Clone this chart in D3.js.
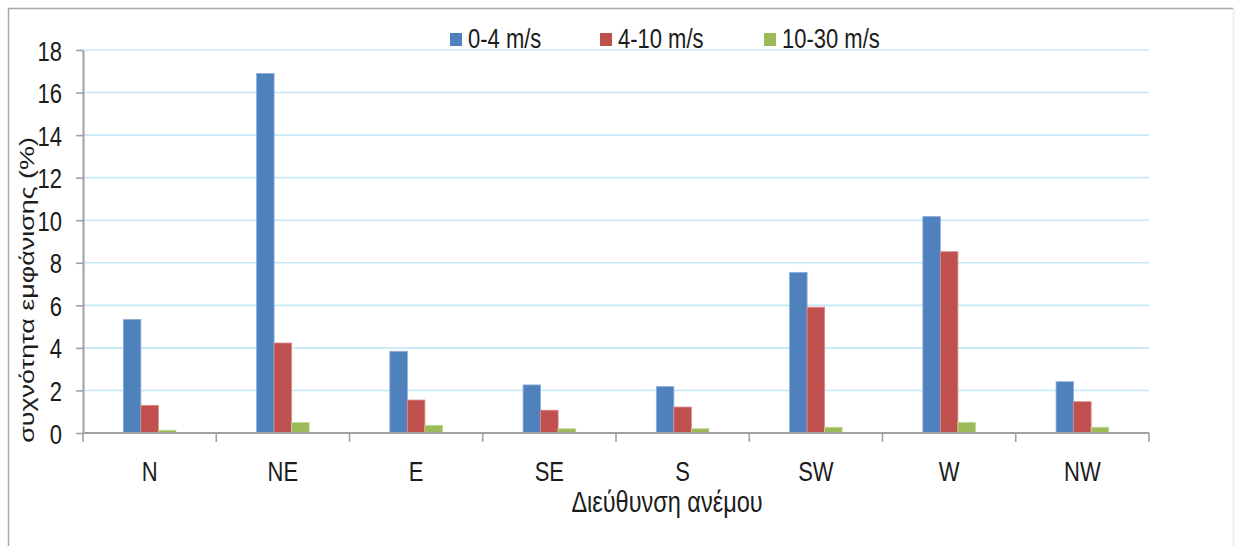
<!DOCTYPE html>
<html>
<head>
<meta charset="utf-8">
<script src="https://cdn.jsdelivr.net/npm/d3@7"></script>
<style>
  html, body { margin: 0; padding: 0; background: #fff; }
  svg { display: block; font-family: "Liberation Sans", Arial, sans-serif; }
</style>
</head>
<body>
<svg id="chart" width="1235" height="546"></svg>
<script>
// Wind direction sectors
const directions = ["N", "NE", "E", "SE", "S", "SW", "W", "NW"];

// Speed classes (legend labels)
const speedClasses = ["0-4 m/s", "4-10 m/s", "10-30 m/s"];

// Frequency of occurrence (%) per direction, one array per speed class
const calm = [5.34, 16.90, 3.84, 2.26, 2.18, 7.55, 10.18, 2.41];
const moderate = [1.30, 4.23, 1.55, 1.07, 1.22, 5.91, 8.52, 1.47];
const strong = [0.13, 0.50, 0.36, 0.20, 0.20, 0.27, 0.50, 0.27];

// Y axis tick values
const yTicks = [0, 2, 4, 6, 8, 10, 12, 14, 16, 18];

const seriesValues = [calm, moderate, strong];
const colors = ["#4f81bd", "#c0504d", "#9bbb59"];
const edgeColors = ["#8fb0d8", "#d98c8a", "#c1d79a"];

const svg = d3.select("#chart");
const W = 1235, H = 546;
const plot = { left: 83, right: 1149, top: 50, bottom: 433 };
const textColor = "#1c1c1c";
const stretch = 1.28;

svg.append("rect").attr("width", W).attr("height", H).attr("fill", "#fff");

// Outer chart frame
svg.append("path")
  .attr("d", `M8.5,${H + 2} V8.5 H1233.5`)
  .attr("fill", "none").attr("stroke", "#a8a8a8").attr("stroke-width", 1.5);
svg.append("line")
  .attr("x1", 1233.5).attr("x2", 1233.5).attr("y1", 8.5).attr("y2", H)
  .attr("stroke", "#ececec").attr("stroke-width", 1.5);

const y = d3.scaleLinear().domain([0, 18]).range([plot.bottom, plot.top]);
const x0 = d3.scaleBand().domain(directions).range([plot.left, plot.right]).paddingInner(0).paddingOuter(0);
const x1 = d3.scaleBand().domain(d3.range(speedClasses.length)).range([0, x0.bandwidth()])
  .paddingInner(0).paddingOuter(2.3);

// Horizontal gridlines
svg.append("g")
  .selectAll("line")
  .data(yTicks.filter(d => d > 0))
  .join("line")
  .attr("x1", plot.left).attr("x2", plot.right)
  .attr("y1", d => y(d)).attr("y2", d => y(d))
  .attr("stroke", "#c4e8f8").attr("stroke-width", 1.6);

// Bars
const rows = directions.map((dir, i) => ({ dir, vals: seriesValues.map(s => s[i]) }));
const groups = svg.append("g").selectAll("g")
  .data(rows).join("g")
  .attr("transform", d => `translate(${x0(d.dir)},0)`);
groups.selectAll("rect")
  .data(d => d.vals.map((v, k) => ({ v, k })))
  .join("rect")
  .attr("x", d => x1(d.k))
  .attr("width", x1.bandwidth())
  .attr("y", d => y(d.v))
  .attr("height", d => y(0) - y(d.v))
  .attr("fill", d => colors[d.k])
  .attr("stroke", d => edgeColors[d.k])
  .attr("stroke-width", 0.8);

// Y axis
const yAxis = svg.append("g")
  .attr("transform", `translate(${plot.left},0)`)
  .call(d3.axisLeft(y).tickValues(yTicks).tickSize(7).tickPadding(14).tickSizeOuter(0));
yAxis.select(".domain").attr("stroke", "#a0a0a0").attr("stroke-width", 2);
yAxis.selectAll(".tick line").attr("stroke", "#a0a0a0").attr("stroke-width", 1.6);
yAxis.selectAll(".tick text")
  .attr("fill", textColor).attr("font-size", 22)
  .attr("dy", null).attr("y", null)
  .attr("dominant-baseline", null)
  .attr("transform", `translate(0,${0.358 * 22 * stretch}) scale(1,${stretch})`);

// X axis: labels at band centres, tick marks at band boundaries
const xAxis = svg.append("g")
  .attr("transform", `translate(0,${plot.bottom})`)
  .call(d3.axisBottom(x0).tickSize(0).tickPadding(0));
xAxis.select(".domain").remove();
xAxis.selectAll(".tick text")
  .attr("fill", textColor).attr("font-size", 22)
  .attr("dy", null).attr("y", null)
  .attr("transform", `translate(0,48) scale(1,${stretch})`);
svg.append("line")
  .attr("x1", plot.left).attr("x2", plot.right)
  .attr("y1", plot.bottom).attr("y2", plot.bottom)
  .attr("stroke", "#a0a0a0").attr("stroke-width", 2);
const boundaries = directions.map(d => x0(d)).concat([x0(directions[directions.length - 1]) + x0.bandwidth()]);
svg.append("g").selectAll("line")
  .data(boundaries).join("line")
  .attr("x1", d => d).attr("x2", d => d)
  .attr("y1", plot.bottom).attr("y2", plot.bottom + 9)
  .attr("stroke", "#a0a0a0").attr("stroke-width", 1.6);

// Axis titles
svg.append("text")
  .attr("transform", `translate(667,512) scale(1,${stretch})`)
  .attr("text-anchor", "middle").attr("font-size", 23.5).attr("fill", textColor)
  .text("Διεύθυνση ανέμου");
svg.append("text")
  .attr("transform", `translate(34,290) rotate(-90) scale(${stretch},1)`)
  .attr("text-anchor", "middle").attr("font-size", 21).attr("fill", textColor)
  .text("συχνότητα εμφάνισης (%)");

// Legend
const legendX = [450, 600, 764];
const legend = svg.append("g").selectAll("g")
  .data(speedClasses).join("g")
  .attr("transform", (d, i) => `translate(${legendX[i]},0)`);
legend.append("rect")
  .attr("x", 0).attr("y", 33).attr("width", 12).attr("height", 13)
  .attr("fill", (d, i) => colors[i]);
legend.append("text")
  .attr("transform", `translate(18,47.5) scale(1,${stretch})`)
  .attr("font-size", 22).attr("fill", textColor)
  .text(d => d);
</script>
</body>
</html>
